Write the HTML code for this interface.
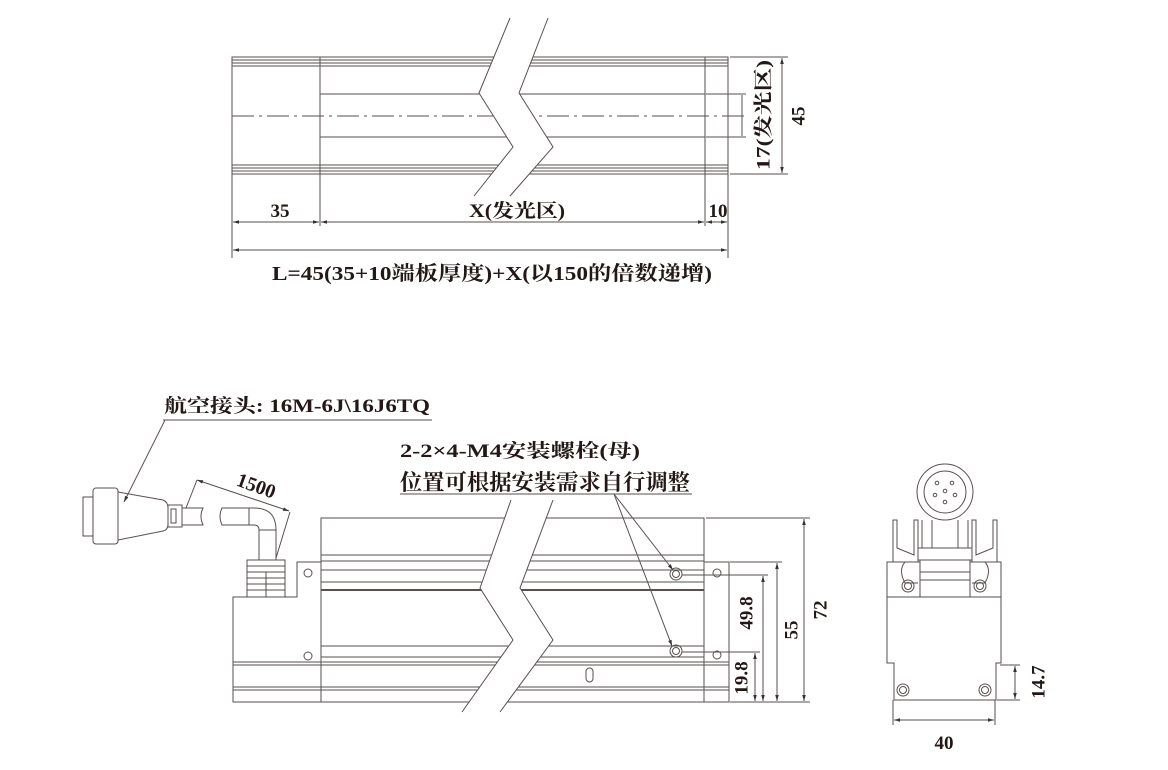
<!DOCTYPE html>
<html><head><meta charset="utf-8"><style>
html,body{margin:0;padding:0;background:#fff;}
svg{display:block;}
text{font-family:"Liberation Serif","Noto Serif CJK SC",serif;font-weight:bold;fill:#231815;}
</style></head><body>
<svg width="1168" height="770" viewBox="0 0 1168 770" xmlns="http://www.w3.org/2000/svg">
<defs>
<marker id="a" viewBox="0 0 10 10" refX="10" refY="5" markerWidth="8" markerHeight="6" orient="auto-start-reverse"><path d="M0,2 L10,5 L0,8 z" fill="#333"/></marker>
</defs>
<g stroke="#5a4f4f" stroke-width="1" fill="none">
<rect x="232" y="57" width="496" height="117"/>
<line x1="232" y1="60" x2="728" y2="60"/><line x1="232" y1="63" x2="728" y2="63"/><line x1="232" y1="66" x2="728" y2="66"/>
<line x1="232" y1="165" x2="728" y2="165"/><line x1="232" y1="168" x2="728" y2="168"/><line x1="232" y1="171" x2="728" y2="171"/>
<line x1="320" y1="57" x2="320" y2="174"/><line x1="705" y1="57" x2="705" y2="174"/>
<line x1="320" y1="94" x2="705" y2="94"/><line x1="320" y1="137" x2="705" y2="137"/>
<line x1="232" y1="116" x2="745" y2="116" stroke-dasharray="22,5,3,5"/>
<polygon points="510,18 479,93 513,147 474,196 510,196 553,147 519,93 548,18" fill="#fff" stroke="none"/>
<polyline points="510,18 479,93 513,147 474,196"/>
<polyline points="548,18 519,93 553,147 510,196"/>
<line x1="730" y1="57" x2="788" y2="57"/><line x1="730" y1="174" x2="788" y2="174"/>
<line x1="782" y1="58" x2="782" y2="173" marker-start="url(#a)" marker-end="url(#a)"/>
<line x1="706" y1="94" x2="746" y2="94"/><line x1="706" y1="137" x2="746" y2="137"/>
<line x1="742" y1="95" x2="742" y2="136"/>
<line x1="232" y1="174" x2="232" y2="258"/><line x1="728" y1="174" x2="728" y2="258"/>
<line x1="320" y1="174" x2="320" y2="226"/><line x1="705" y1="174" x2="705" y2="226"/>
<line x1="233" y1="222" x2="319" y2="222" marker-start="url(#a)" marker-end="url(#a)"/>
<line x1="321" y1="222" x2="704" y2="222" marker-start="url(#a)" marker-end="url(#a)"/>
<line x1="706" y1="222" x2="727" y2="222" marker-start="url(#a)" marker-end="url(#a)"/>
<line x1="233" y1="250" x2="727" y2="250" marker-start="url(#a)" marker-end="url(#a)"/>

<rect x="321" y="518" width="383" height="184"/>
<path d="M321,562 H297 V597 H233 V702 H321"/>
<rect x="704" y="562" width="25" height="140"/>
<line x1="321" y1="555" x2="704" y2="555"/><line x1="321" y1="561" x2="704" y2="561"/><line x1="321" y1="570" x2="704" y2="570"/>
<line x1="321" y1="582" x2="704" y2="582"/><line x1="321" y1="590" x2="704" y2="590" stroke-width="2"/>
<line x1="321" y1="646" x2="704" y2="646"/><line x1="321" y1="657" x2="704" y2="657"/>
<line x1="233" y1="662" x2="729" y2="662"/><line x1="233" y1="665" x2="729" y2="665"/>
<line x1="233" y1="687" x2="729" y2="687"/><line x1="233" y1="690" x2="729" y2="690"/>
<circle cx="308" cy="573" r="4"/><circle cx="308" cy="656" r="4"/>
<circle cx="717" cy="573" r="4"/><circle cx="717" cy="655" r="4"/>
<rect x="586" y="668" width="7" height="14" rx="3.5"/>
<circle cx="676" cy="574" r="6"/><circle cx="676" cy="574" r="3.5"/>
<circle cx="676" cy="651" r="6"/><circle cx="676" cy="651" r="3.5"/>
<polygon points="511,500 480,588 513,640 462,712 500,712 553,640 520,588 553,500" fill="#fff" stroke="none"/>
<polyline points="511,500 480,588 513,640 462,712"/>
<polyline points="553,500 520,588 553,640 500,712"/>
<rect x="247" y="560" width="38" height="37" fill="#fff"/>
<line x1="247" y1="566" x2="285" y2="566"/><line x1="247" y1="572" x2="285" y2="572"/><line x1="247" y1="578" x2="285" y2="578"/><line x1="247" y1="584" x2="285" y2="584"/><line x1="247" y1="590" x2="285" y2="590"/>
<line x1="266" y1="572" x2="266" y2="597"/>
<path d="M259,560 V530 Q259,525 254,525 H222 Q218,516 222,508 H254 Q276,508 276,530 V560"/>
<line x1="249" y1="508" x2="249" y2="525"/><line x1="259" y1="530" x2="276" y2="530"/>
<path d="M182,508 H203 Q199,516 203,525 H182"/>
<rect x="168" y="505" width="14" height="22"/><rect x="171" y="509" width="5" height="14"/>
<path d="M118,492 L163,500 Q168,502 168,508 V524 Q168,530 163,531 L118,540 Z"/>
<rect x="93" y="488" width="25" height="56" rx="3"/>
<rect x="83" y="497" width="10" height="39"/>
<line x1="197" y1="480" x2="289" y2="511" marker-start="url(#a)" marker-end="url(#a)"/>
<line x1="197" y1="480" x2="186" y2="508"/><line x1="290" y1="512" x2="276" y2="558"/>
<line x1="163" y1="420" x2="432" y2="420"/>
<line x1="165" y1="420" x2="124" y2="502" marker-end="url(#a)"/>
<line x1="400" y1="494" x2="692" y2="494"/>
<line x1="614" y1="494" x2="673" y2="570" marker-end="url(#a)"/>
<line x1="614" y1="494" x2="672" y2="646" marker-end="url(#a)"/>
<line x1="706" y1="518" x2="810" y2="518"/><line x1="730" y1="702" x2="810" y2="702"/>
<line x1="730" y1="562" x2="782" y2="562"/><line x1="682" y1="575" x2="768" y2="575"/><line x1="682" y1="652" x2="760" y2="652"/>
<line x1="804" y1="519" x2="804" y2="701" marker-start="url(#a)" marker-end="url(#a)"/>
<line x1="777" y1="563" x2="777" y2="701" marker-start="url(#a)" marker-end="url(#a)"/>
<line x1="763" y1="576" x2="763" y2="701" marker-start="url(#a)" marker-end="url(#a)"/>
<line x1="755" y1="653" x2="755" y2="701" marker-start="url(#a)" marker-end="url(#a)"/>

<circle cx="945" cy="492" r="28"/><circle cx="945" cy="492" r="21"/>
<circle cx="945" cy="491" r="1.8"/><circle cx="937" cy="483" r="1.8"/><circle cx="952" cy="483" r="1.8"/><circle cx="935" cy="495" r="1.8"/><circle cx="955" cy="495" r="1.8"/><circle cx="945" cy="502" r="1.8"/>
<path d="M893,562 V520 H897 V548 L914,555 V520 H918 V562"/>
<path d="M997,562 V520 H993 V548 L976,555 V520 H972 V562"/>
<line x1="922" y1="520" x2="922" y2="550"/><line x1="968" y1="520" x2="968" y2="550"/>
<line x1="932" y1="520" x2="932" y2="548"/><line x1="958" y1="520" x2="958" y2="548"/>
<path d="M887,562 H1001 V663 H996 V700 H894 V663 H887 Z"/>
<line x1="887" y1="597" x2="1001" y2="597"/>
<rect x="918" y="548" width="54" height="12" fill="#fff"/>
<rect x="920" y="560" width="50" height="37" fill="#fff"/>
<line x1="920" y1="572" x2="970" y2="572"/><line x1="920" y1="580" x2="970" y2="580"/>
<path d="M918,562 H905 Q898,570 905,583 H918"/><path d="M972,562 H985 Q992,570 985,583 H972"/>
<circle cx="908" cy="586" r="6"/><circle cx="908" cy="586" r="3.5"/>
<circle cx="980" cy="586" r="6"/><circle cx="980" cy="586" r="3.5"/>
<circle cx="903" cy="690" r="6"/><circle cx="903" cy="690" r="3.5"/>
<circle cx="985" cy="690" r="6"/><circle cx="985" cy="690" r="3.5"/>
<line x1="893" y1="700" x2="893" y2="725"/><line x1="995" y1="700" x2="995" y2="725"/>
<line x1="894" y1="720" x2="994" y2="720" marker-start="url(#a)" marker-end="url(#a)"/>
<line x1="1000" y1="665" x2="1020" y2="665"/><line x1="997" y1="700" x2="1020" y2="700"/>
<line x1="1015" y1="666" x2="1015" y2="699" marker-start="url(#a)" marker-end="url(#a)"/>
</g>

<text x="800" y="116" font-size="19" text-anchor="middle" transform="rotate(-90 800 116)" dominant-baseline="middle">45</text>
<text x="765" y="115" font-size="19" text-anchor="middle" transform="rotate(-90 765 115)" dominant-baseline="middle" textLength="110" lengthAdjust="spacingAndGlyphs">17(发光区)</text>
<text x="280" y="217" font-size="19" text-anchor="middle">35</text>
<text x="517" y="217" font-size="19" text-anchor="middle" textLength="96" lengthAdjust="spacingAndGlyphs">X(发光区)</text>
<text x="718" y="217" font-size="19" text-anchor="middle">10</text>
<text x="272" y="280" font-size="20" textLength="440" lengthAdjust="spacingAndGlyphs">L=45(35+10端板厚度)+X(以150的倍数递增)</text>
<text x="164" y="412" font-size="19" textLength="266" lengthAdjust="spacingAndGlyphs">航空接头: 16M-6J\16J6TQ</text>
<text x="400" y="457" font-size="19" textLength="240" lengthAdjust="spacingAndGlyphs">2-2×4-M4安装螺栓(母)</text>
<text x="400" y="490" font-size="22" textLength="290" lengthAdjust="spacingAndGlyphs">位置可根据安装需求自行调整</text>
<text x="254" y="492" font-size="20" text-anchor="middle" transform="rotate(20 254 492)">1500</text>
<text x="822" y="610" font-size="19" text-anchor="middle" transform="rotate(-90 822 610)" dominant-baseline="middle">72</text>
<text x="793" y="630" font-size="19" text-anchor="middle" transform="rotate(-90 793 630)" dominant-baseline="middle">55</text>
<text x="748" y="613" font-size="19" text-anchor="middle" transform="rotate(-90 748 613)" dominant-baseline="middle">49.8</text>
<text x="743" y="678" font-size="19" text-anchor="middle" transform="rotate(-90 743 678)" dominant-baseline="middle">19.8</text>
<text x="1040" y="682" font-size="19" text-anchor="middle" transform="rotate(-90 1040 682)" dominant-baseline="middle">14.7</text>
<text x="944" y="749" font-size="19" text-anchor="middle">40</text>
</svg>
</body></html>
